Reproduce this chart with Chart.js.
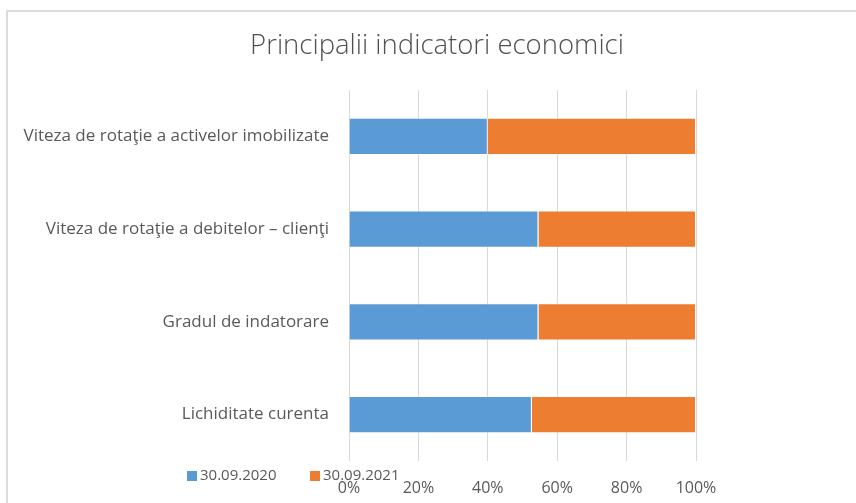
<!DOCTYPE html>
<html>
<head>
<meta charset="utf-8">
<script src="https://cdn.jsdelivr.net/npm/chart.js@4.4.1/dist/chart.umd.min.js"></script>
<style>
    html, body { margin: 0; padding: 0; background: #fff; }
    #wrap { width: 856px; height: 503px; position: relative; }
</style>
</head>
<body>
<div id="wrap"><canvas id="chart" width="856" height="503"></canvas></div>
<script>
// --- DATA ---
const categories = [
    'Viteza de rotaţie a activelor imobilizate',
    'Viteza de rotaţie a debitelor – clienţi',
    'Gradul de indatorare',
    'Lichiditate curenta'
];
const series2020 = [40, 54.6, 54.6, 52.7];
const series2021 = [60, 45.4, 45.4, 47.3];
const seriesNames = ['30.09.2020', '30.09.2021'];
const xTicks = [0, 20, 40, 60, 80, 100];

const FONT = '"Open Sans", Lato, sans-serif';
const TEXT = '#595959';

// frame lines (top + left) like the source image crop
const framePlugin = {
    id: 'frame',
    beforeDraw(chart) {
        const ctx = chart.ctx;
        ctx.save();
        ctx.fillStyle = '#fff';
        ctx.fillRect(0, 0, chart.width, chart.height);
        ctx.strokeStyle = '#dcdcdc';
        ctx.lineWidth = 2;
        ctx.beginPath();
        ctx.moveTo(7, chart.height);
        ctx.lineTo(7, 11);
        ctx.lineTo(chart.width, 11);
        ctx.stroke();
        ctx.restore();
    }
};

// legend sits over the axis labels, as in the original
const legendPlugin = {
    id: 'overLegend',
    afterDraw(chart) {
        const ctx = chart.ctx;
        const xs = [187, 310];
        ctx.save();
        ctx.font = '15px ' + FONT;
        ctx.textBaseline = 'middle';
        chart.data.datasets.forEach((ds, i) => {
            ctx.fillStyle = ds.backgroundColor;
            ctx.fillRect(xs[i], 471, 10, 10);
            ctx.fillStyle = TEXT;
            ctx.fillText(ds.label, xs[i] + 13, 476);
        });
        ctx.restore();
    }
};

new Chart(document.getElementById('chart'), {
    type: 'bar',
    data: {
        labels: categories,
        datasets: [
            { label: seriesNames[0], data: series2020, backgroundColor: '#5B9BD5', borderColor: 'rgba(255,255,255,0.5)', borderWidth: 1 },
            { label: seriesNames[1], data: series2021, backgroundColor: '#ED7D31', borderColor: 'rgba(255,255,255,0.5)', borderWidth: 1 }
        ]
    },
    options: {
        indexAxis: 'y',
        responsive: false,
        animation: false,
        layout: { padding: { left: 18, right: 0, top: 0, bottom: 0 } },
        datasets: { bar: { categoryPercentage: 1, barPercentage: 0.4 } },
        plugins: {
            legend: { display: false },
            tooltip: { enabled: false },
            title: {
                display: true,
                text: 'Principalii indicatori economici',
                color: '#505050',
                font: { family: FONT, size: 27.5, weight: 300, lineHeight: 1.2 },
                padding: { top: 30, bottom: 27 }
            }
        },
        scales: {
            x: {
                stacked: true,
                min: 0,
                max: 100,
                afterBuildTicks: s => { s.ticks = xTicks.map(v => ({ value: v })); },
                afterFit: s => { s.height = 42; },
                grid: { color: '#d9d9d9', lineWidth: 1, drawTicks: false },
                border: { display: false },
                ticks: { color: TEXT, padding: 18, font: { family: FONT, size: 16 }, callback: v => v + '%' }
            },
            y: {
                stacked: true,
                afterFit: s => { s.width = 331; },
                grid: { display: false, drawTicks: false },
                border: { display: false },
                ticks: { color: TEXT, padding: 20, font: { family: FONT, size: 17 } }
            },
            // empty right margin, keeps the title centred on the whole picture
            yRight: {
                position: 'right',
                afterFit: s => { s.width = 160; },
                grid: { display: false, drawTicks: false },
                border: { display: false },
                ticks: { display: false }
            }
        }
    },
    plugins: [framePlugin, legendPlugin]
});
</script>
</body>
</html>
